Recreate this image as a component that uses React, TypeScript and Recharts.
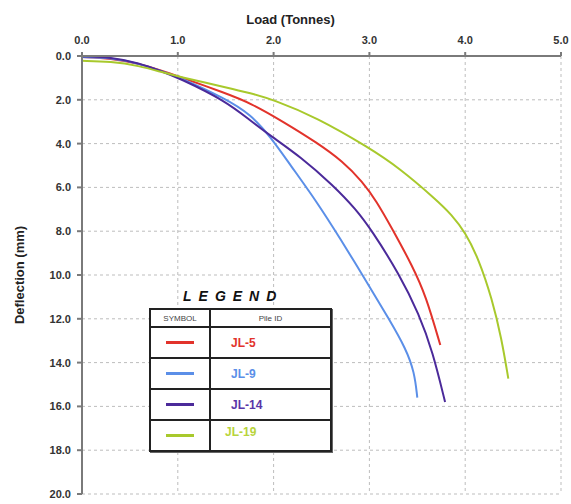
import React from 'react';
import { LineChart, Line, XAxis, YAxis, CartesianGrid } from 'recharts';

const loadTicks = [0, 1, 2, 3, 4, 5];
const deflTicks = [0, 2, 4, 6, 8, 10, 12, 14, 16, 18, 20];

const jl5Load = [0, 0.3, 0.6, 0.82, 1.0, 1.5, 1.76, 2.1, 2.45, 2.72, 2.93, 3.07, 3.24, 3.45, 3.59, 3.74];
const jl5Defl = [0.05, 0.1, 0.35, 0.65, 0.92, 1.7, 2.15, 3.0, 3.95, 4.8, 5.75, 6.6, 7.9, 9.6, 10.95, 13.2];

const jl9Load = [0, 0.3, 0.6, 0.82, 1.0, 1.5, 1.76, 1.97, 2.17, 2.45, 2.69, 2.97, 3.21, 3.38, 3.47, 3.5];
const jl9Defl = [0.05, 0.07, 0.35, 0.68, 0.95, 1.95, 2.67, 3.7, 4.95, 6.65, 8.3, 10.3, 12.05, 13.36, 14.43, 15.6];

const jl14Load = [0, 0.3, 0.6, 0.82, 1.0, 1.5, 1.76, 1.97, 2.28, 2.62, 2.86, 3.03, 3.31, 3.52, 3.66, 3.79];
const jl14Defl = [0.02, 0.05, 0.33, 0.68, 0.98, 2.05, 2.96, 3.65, 4.6, 5.9, 7.0, 8.0, 9.95, 11.8, 13.5, 15.8];

const jl19Load = [0, 0.3, 0.6, 0.82, 1.0, 1.5, 1.76, 2.0, 2.45, 3.0, 3.31, 3.69, 3.86, 4.0, 4.14, 4.28, 4.38, 4.45];
const jl19Defl = [0.22, 0.25, 0.45, 0.72, 0.93, 1.43, 1.7, 2.0, 2.81, 4.2, 5.11, 6.53, 7.25, 8.05, 9.26, 11.09, 12.91, 14.73];

const seriesNames = ['JL-5', 'JL-9', 'JL-14', 'JL-19'];
const seriesColors = ['#e2332b', '#5b8fe8', '#4b2a9a', '#a8c92c'];
const labelColors = ['#e2332b', '#5b8fe8', '#5a34a8', '#b8d43c'];

const zip = (xs: number[], ys: number[]) => xs.map((x, i) => ({ load: x, defl: ys[i] }));

const series = [
  zip(jl5Load, jl5Defl),
  zip(jl9Load, jl9Defl),
  zip(jl14Load, jl14Defl),
  zip(jl19Load, jl19Defl),
];

const font = '"Liberation Sans", Arial, sans-serif';

const XTitle = (props: any) => {
  const vb = props.viewBox || {};
  return (
    <text x={vb.x + vb.width / 2 - 31} y={vb.y - 6} textAnchor="middle" fontFamily={font}
      fontWeight="bold" fontSize={13} fill="#222">Load (Tonnes)</text>
  );
};

const YTitle = (props: any) => {
  const vb = props.viewBox || {};
  const cx = 19;
  const cy = vb.y + vb.height / 2;
  return (
    <text x={cx} y={cy} transform={`rotate(-90, ${cx}, ${cy})`} textAnchor="middle"
      dominantBaseline="central" fontFamily={font} fontWeight="bold" fontSize={13} fill="#222">
      Deflection (mm)
    </text>
  );
};

const cellBorder = '2px solid #222';

export default function App() {
  return (
    <div style={{ position: 'absolute', left: 0, top: 0, width: 571, height: 504, background: '#fff', overflow: 'hidden' }}>
      <LineChart width={571} height={504} data={series[0]}
        margin={{ top: 30, right: 10, bottom: 10, left: 32 }}>
        <CartesianGrid stroke="#bdbdbd" strokeDasharray="3 3" />
        <XAxis dataKey="load" type="number" orientation="top" domain={[0, 5]} ticks={loadTicks}
          allowDataOverflow height={26} tickSize={4} tickMargin={8} interval={0}
          tickFormatter={(v: number) => v.toFixed(1)}
          tick={{ fontFamily: font, fontWeight: 'bold', fontSize: 11, fill: '#333' }}
          stroke="#7a7a7a" strokeWidth={2}
          label={{ content: XTitle }} />
        <YAxis dataKey="defl" type="number" reversed domain={[0, 20]} ticks={deflTicks}
          allowDataOverflow width={50} tickSize={5} tickMargin={6} interval={0}
          tickFormatter={(v: number) => v.toFixed(1)}
          tick={{ fontFamily: font, fontWeight: 'bold', fontSize: 11, fill: '#333' }}
          stroke="#7a7a7a" strokeWidth={2}
          label={{ content: YTitle }} />
        {series.map((d, i) => (
          <Line key={seriesNames[i]} name={seriesNames[i]} data={d} dataKey="defl" type="basis"
            stroke={seriesColors[i]} strokeWidth={2} dot={false} activeDot={false}
            isAnimationActive={false} />
        ))}
      </LineChart>

      <div style={{ position: 'absolute', left: 183, top: 288, fontFamily: font, fontWeight: 'bold',
        fontStyle: 'italic', fontSize: 14, letterSpacing: 7, color: '#111', lineHeight: '16px' }}>
        LEGEND
      </div>
      <table style={{ position: 'absolute', left: 149, top: 308, width: 183, borderCollapse: 'collapse',
        fontFamily: font, background: '#fff', boxShadow: '1px 1px 0 #666' }}>
        <tbody>
          <tr style={{ height: 18 }}>
            <td style={{ border: cellBorder, width: 58, padding: 0, textAlign: 'center', fontSize: 8,
              color: '#444' }}>SYMBOL</td>
            <td style={{ border: cellBorder, padding: 0, textAlign: 'center', fontSize: 8, color: '#444' }}>
              Pile ID</td>
          </tr>
          {seriesNames.map((n, i) => (
            <tr key={n} style={{ height: 31 }}>
              <td style={{ border: cellBorder, padding: 0 }}>
                <div style={{ width: 28, height: 3, margin: '0 auto', background: seriesColors[i] }} />
              </td>
              <td style={{ border: cellBorder, padding: '0 0 0 ' + (i === 3 ? 14 : 20) + 'px',
                fontSize: 12, fontWeight: 'bold', color: labelColors[i],
                verticalAlign: i === 3 ? 'top' : 'middle', paddingTop: i === 3 ? 4 : 0 }}>{n}</td>
            </tr>
          ))}
        </tbody>
      </table>
    </div>
  );
}
